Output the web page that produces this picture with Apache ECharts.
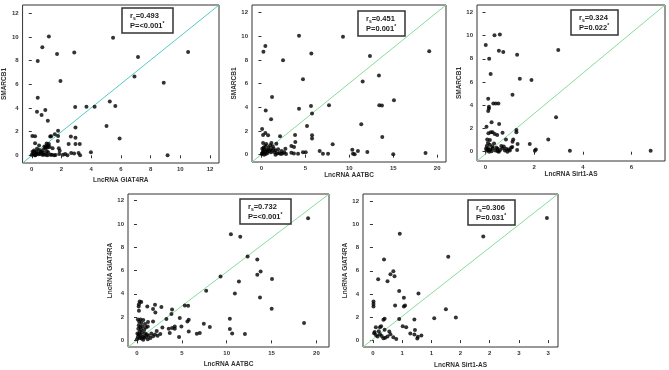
<!DOCTYPE html>
<html>
<head>
<meta charset="utf-8">
<style>
  html, body { margin: 0; padding: 0; background: #fff; }
  #main { width: 669px; height: 370px; }
</style>
<script src="https://cdn.jsdelivr.net/npm/echarts@6/dist/echarts.min.js"></script>
</head>
<body>
<div id="main"></div>
<script>
// five correlation scatter panels
var dom = document.getElementById("main");
var myChart = echarts.init(dom);

// [x, y] pairs
var giat_smarcb1 = [
    [1.15, 10.03], [5.47, 9.94], [0.71, 9.13], [1.70, 8.56], [2.86, 8.68], [0.40, 7.97], [10.52, 8.73],
    [7.15, 8.31], [6.91, 6.65], [8.88, 6.14], [1.93, 6.28], [0.40, 4.87], [0.35, 3.69], [0.66, 3.41],
    [0.91, 3.83], [1.08, 2.93], [2.92, 4.08], [3.68, 4.11], [4.23, 4.11], [5.25, 4.54], [5.62, 4.17],
    [5.03, 2.48], [5.91, 1.41], [2.94, 2.34], [9.14, 0.0], [3.98, 0.25],
    [0.04, 1.63], [0.22, 1.60], [0.22, 1.01], [0.49, 0.82], [0.15, 0.4], [0.3, 0.3], [0.1, 0.1],
    [0.0, 0.05], [0.2, 0.0], [0.4, 0.15], [0.55, 0.1], [0.6, 0.3], [0.7, 0.05], [0.8, 0.2], [0.9, 0.6],
    [1.0, 0.75], [1.05, 0.65], [1.1, 0.8], [0.95, 0.7], [1.15, 0.95], [1.2, 0.7], [0.85, 0.75],
    [1.77, 2.08], [1.77, 1.63], [1.55, 1.77], [1.24, 1.58], [1.75, 1.21], [1.82, 0.59], [1.88, 0.39],
    [2.48, 0.96], [2.63, 1.58], [2.94, 1.49], [2.94, 0.96], [3.23, 0.96], [2.65, 0.2], [2.85, 0.15],
    [3.15, 0.2], [3.25, 0.0], [2.25, 0.1], [2.4, 0.0], [1.5, 0.0], [1.35, 0.05], [1.6, 0.03], [1.05, 0.0],
    [1.25, 0.05], [0.65, 0.25], [0.45, 0.08], [0.3, 0.15], [0.15, 0.25], [0.05, 0.3], [1.0, 0.35],
    [1.1, 0.25], [1.4, 0.6], [0.75, 0.45], [0.5, 0.45], [0.35, 0.55], [1.3, 1.6], [1.0, 1.0], [0.8, 0.05],
    [0.95, 0.05], [1.85, 0.1], [2.1, 0.05], [0.25, 0.0]
];
var aatbc_smarcb1 = [
    [4.28, 10.05], [9.28, 9.97], [0.45, 9.18], [0.23, 8.70], [5.68, 8.56], [19.09, 8.75], [12.35, 8.33],
    [2.46, 7.99], [13.37, 6.69], [11.52, 6.18], [4.73, 6.38], [1.21, 4.88], [15.08, 4.60], [13.41, 4.18],
    [13.71, 4.15], [7.69, 4.18], [4.28, 3.88], [5.64, 4.12], [0.49, 3.73], [5.76, 3.47], [1.10, 2.99],
    [5.19, 2.43], [11.36, 2.57], [0.08, 2.17], [0.19, 1.67], [0.45, 1.84], [0.76, 1.64], [2.12, 1.55],
    [3.83, 1.67], [5.76, 1.64], [5.76, 1.36], [3.86, 1.07], [13.75, 1.50], [8.11, 0.88], [1.70, 0.93],
    [1.14, 0.99], [0.19, 0.99], [0.45, 0.73], [3.41, 0.73], [3.71, 0.65], [2.73, 0.51], [10.34, 0.42],
    [10.98, 0.31], [12.05, 0.23], [6.63, 0.31], [7.0, 0.08], [7.58, 0.08], [10.42, 0.08], [10.61, 0.03],
    [15.0, 0.03], [18.67, 0.14], [4.73, 0.2], [5.04, 0.2], [4.17, 0.08], [3.41, 0.17], [3.7, 0.1],
    [0.1, 0.1], [0.2, 0.3], [0.3, 0.0], [0.4, 0.2], [0.5, 0.05], [0.6, 0.4], [0.1, 0.5], [0.25, 0.6],
    [0.7, 0.15], [0.9, 0.3], [1.0, 0.45], [1.1, 0.2], [1.2, 0.35], [1.3, 0.7], [1.0, 0.8], [0.8, 0.6],
    [1.5, 0.2], [1.6, 0.35], [1.8, 0.1], [2.0, 0.15], [2.2, 0.05], [2.4, 0.1], [2.6, 0.2], [1.9, 0.45],
    [2.3, 0.3], [0.05, 0.05], [0.35, 0.45], [0.55, 0.9], [1.4, 0.5], [1.6, 0.0], [2.8, 0.05], [0.15, 0.2],
    [0.65, 0.3]
];
var sirt_smarcb1 = [
    [0.37, 10.02], [0.59, 10.08], [0.01, 9.19], [0.55, 8.70], [0.73, 8.59], [2.99, 8.76], [1.30, 8.35],
    [0.15, 8.01], [0.21, 6.69], [1.41, 6.29], [1.89, 6.17], [1.11, 4.91], [0.11, 4.56], [0.32, 4.16],
    [0.42, 4.16], [0.53, 4.16], [0.14, 3.88], [0.14, 3.73], [0.11, 3.5], [2.90, 2.96], [0.25, 2.53],
    [0.56, 2.38], [0.04, 2.15], [0.12, 1.58], [0.22, 1.67], [0.29, 1.67], [0.38, 1.52], [0.48, 1.44],
    [0.70, 1.64], [1.27, 1.87], [1.27, 1.67], [0.07, 1.06], [0.18, 1.0], [0.84, 1.06], [1.14, 1.06],
    [1.11, 0.86], [2.58, 1.06], [1.82, 0.66], [1.32, 0.66], [2.03, 0.09], [2.07, 0.2], [3.47, 0.09],
    [6.79, 0.09],
    [0.05, 0.1], [0.1, 0.3], [0.15, 0.0], [0.2, 0.2], [0.05, 0.5], [0.1, 0.75], [0.25, 0.05], [0.3, 0.3],
    [0.35, 0.7], [0.4, 0.1], [0.5, 0.25], [0.55, 0.0], [0.6, 0.15], [0.7, 0.3], [0.75, 0.45], [0.8, 0.1],
    [0.9, 0.0], [0.95, 0.2], [1.05, 0.35], [1.1, 0.4], [1.3, 0.15], [0.65, 0.5], [0.85, 0.25], [0.12, 0.15],
    [0.28, 0.45], [0.45, 0.35], [0.02, 0.25], [0.18, 0.6], [1.0, 0.1], [0.5, 0.05]
];
var aatbc_giat = [
    [19.07, 10.49], [10.47, 9.11], [11.51, 8.89], [12.33, 7.2], [13.41, 6.94], [13.78, 5.91], [13.41, 5.63],
    [9.31, 5.49], [15.05, 5.26], [11.36, 5.06], [10.91, 4.03], [7.71, 4.26], [13.71, 3.69], [15.01, 2.71],
    [18.62, 1.49], [5.33, 3.0], [5.70, 2.97], [3.91, 2.66], [3.84, 2.26], [3.28, 1.83], [4.77, 1.91],
    [5.77, 1.77], [5.62, 1.63], [10.35, 1.86], [7.45, 1.43], [8.12, 1.14], [10.35, 0.97], [10.61, 0.6],
    [7.0, 0.63], [6.67, 0.57], [12.03, 0.54], [5.77, 0.77], [4.69, 0.29], [4.95, 1.2], [4.21, 1.0],
    [4.21, 1.2], [3.91, 1.06], [3.54, 1.0], [3.65, 0.63], [2.72, 2.86], [2.01, 3.06], [1.79, 2.69],
    [2.05, 2.4], [0.3, 3.34], [0.48, 3.29], [0.22, 3.11], [0.19, 2.91], [0.22, 2.54], [1.15, 2.91],
    [1.79, 1.63], [1.23, 1.57], [2.83, 1.11],
    [0.1, 1.8], [0.4, 1.8], [0.7, 1.75], [0.25, 1.6], [0.5, 1.5], [0.2, 1.3], [0.35, 1.15], [0.6, 1.2],
    [0.15, 1.0], [0.45, 0.95], [0.8, 0.9], [1.0, 1.1], [1.2, 1.2], [0.3, 0.75], [0.55, 0.7], [0.9, 0.6],
    [1.1, 0.5], [0.2, 0.5], [0.4, 0.45], [0.65, 0.35], [0.1, 0.3], [0.3, 0.2], [0.5, 0.15], [0.8, 0.25],
    [1.0, 0.3], [1.3, 0.4], [1.5, 0.2], [1.8, 0.35], [2.0, 0.5], [2.3, 0.4], [2.6, 0.55], [0.0, 0.1],
    [1.2, 0.1], [0.7, 0.05], [1.6, 0.6], [2.2, 0.8], [0.05, 0.6], [0.9, 1.4]
];
var sirt_giat = [
    [2.98, 10.58], [0.46, 9.21], [1.89, 8.96], [1.29, 7.22], [0.19, 6.97], [0.35, 5.97], [0.30, 5.69],
    [0.37, 5.52], [0.09, 5.26], [0.25, 5.09], [0.45, 4.26], [0.78, 4.04], [0.53, 3.67], [0.01, 3.33],
    [0.01, 3.13], [0.01, 2.9], [0.38, 2.99], [0.53, 2.9], [0.55, 2.99], [1.25, 2.67], [1.42, 1.96],
    [1.05, 1.88], [0.71, 1.79], [0.45, 1.82], [0.18, 1.76], [0.2, 1.85], [0.51, 1.19], [0.57, 1.11],
    [0.72, 0.88], [0.64, 0.57], [0.71, 0.48], [0.77, 0.28], [0.83, 0.40], [0.76, 0.14], [0.21, 0.2],
    [0.05, 1.11], [0.12, 1.1], [0.14, 1.19], [0.10, 0.77], [0.02, 0.6], [0.05, 0.45], [0.08, 0.3],
    [0.12, 0.5], [0.15, 0.35], [0.18, 0.15], [0.25, 0.3], [0.3, 0.5], [0.35, 0.25], [0.4, 0.1],
    [0.03, 0.7], [0.2, 0.9], [0.28, 0.75]
];

// axis extents (box edges) and tick values
var xRanges = [[-0.62, 12.6], [-1.07, 21.0], [-0.35, 7.38], [-1.0, 21.4], [-0.17, 3.17]];
var yRanges = [[-0.65, 12.7], [-0.62, 12.65], [-0.8, 12.63], [-0.57, 12.57], [-0.6, 12.65]];
var yTicks = [0, 2, 4, 6, 8, 10, 12];
var xTicks = [
    [0, 2, 4, 6, 8, 10, 12],
    [0, 5, 10, 15, 20],
    [0, 2, 4, 6],
    [0, 5, 10, 15, 20],
    [0, 0.5, 1, 1.5, 2, 2.5, 3]
];
var xNames = ['LncRNA GIAT4RA', 'LncRNA AATBC', 'LncRNA Sirt1-AS', 'LncRNA AATBC', 'LncRNA Sirt1-AS'];
var yNames = ['SMARCB1', 'SMARCB1', 'SMARCB1', 'LncRNA GIAT4RA', 'LncRNA GIAT4RA'];
var rsValues = ['0.493', '0.451', '0.324', '0.732', '0.306'];
var pValues = ['<0.001', '0.001', '0.022', '<0.001', '0.031'];
var panelData = [giat_smarcb1, aatbc_smarcb1, sirt_smarcb1, aatbc_giat, sirt_giat];

// layout
var grids = [
    { left: 20, top: 5, width: 199, height: 158 },
    { left: 252, top: 5, width: 194, height: 157 },
    { left: 477, top: 5, width: 188, height: 156 },
    { left: 128, top: 194, width: 201, height: 153 },
    { left: 363, top: 194, width: 195, height: 155 }
];
var xGaps = [14, 10, 9, 14, 15];
var yGaps = [13, 11, 12, 11, 13];
var boxes = [[122, 7], [358, 10], [571, 9], [240, 198], [468, 199]];
var lineColors = ['#55c9c3', '#86dc9e', '#86dc9e', '#86dc9e', '#86dc9e'];

var FONT = 'Liberation Sans';
var labelStyle = { fontSize: 6, fontWeight: 'bold', color: '#333', fontFamily: FONT };

var option = {
    animation: false,
    backgroundColor: '#fff',
    title: [],
    grid: [],
    xAxis: [],
    yAxis: [],
    series: []
};

for (var i = 0; i < 5; i++) {
    option.grid.push(Object.assign({ show: true, borderColor: '#333', borderWidth: 1, containLabel: false }, grids[i]));
    option.xAxis.push({
        type: 'value', gridIndex: i,
        min: xRanges[i][0], max: xRanges[i][1],
        name: xNames[i], nameLocation: 'middle', nameGap: xGaps[i],
        nameTextStyle: { fontSize: 6.5, fontWeight: 'bold', color: '#333', fontFamily: FONT },
        axisLine: { show: false },
        splitLine: { show: false },
        axisTick: { show: true, length: 3, customValues: xTicks[i], lineStyle: { color: '#333' } },
        axisLabel: Object.assign({
            margin: 3,
            customValues: xTicks[i],
            formatter: function (v) { return String(Math.round(v)); }
        }, labelStyle)
    });
    option.yAxis.push({
        type: 'value', gridIndex: i,
        min: yRanges[i][0], max: yRanges[i][1],
        name: yNames[i], nameLocation: 'middle', nameGap: yGaps[i],
        nameTextStyle: { fontSize: 6.5, fontWeight: 'bold', color: '#333', fontFamily: FONT },
        axisLine: { show: false },
        splitLine: { show: false },
        axisTick: { show: true, length: 3, customValues: yTicks, lineStyle: { color: '#333' } },
        axisLabel: Object.assign({ margin: 4, customValues: yTicks }, labelStyle)
    });
    option.series.push({
        type: 'line', xAxisIndex: i, yAxisIndex: i,
        data: [[xRanges[i][0], yRanges[i][0]], [xRanges[i][1], yRanges[i][1]]],
        symbol: 'none', silent: true, z: 1,
        lineStyle: { color: lineColors[i], width: 1 }
    });
    option.series.push({
        type: 'scatter', xAxisIndex: i, yAxisIndex: i,
        data: panelData[i],
        symbolSize: 4, z: 3,
        itemStyle: { color: '#000' }
    });
    option.title.push({
        left: boxes[i][0], top: boxes[i][1],
        text: '{a|r}{s|s}{a|=' + rsValues[i] + '}\n{a|P=' + pValues[i] + '}{u|*}',
        padding: [4, 9, 3, 8],
        borderColor: '#333', borderWidth: 1.5,
        textStyle: {
            rich: {
                a: { fontSize: 7.5, fontWeight: 'bold', color: '#222', lineHeight: 10, fontFamily: FONT },
                s: { fontSize: 5, fontWeight: 'bold', color: '#222', lineHeight: 10, verticalAlign: 'bottom', fontFamily: FONT },
                u: { fontSize: 5, color: '#222', lineHeight: 10, verticalAlign: 'top', fontFamily: FONT }
            }
        }
    });
}

if (option && typeof option === 'object') {
    myChart.setOption(option);
}
</script>
</body>
</html>
